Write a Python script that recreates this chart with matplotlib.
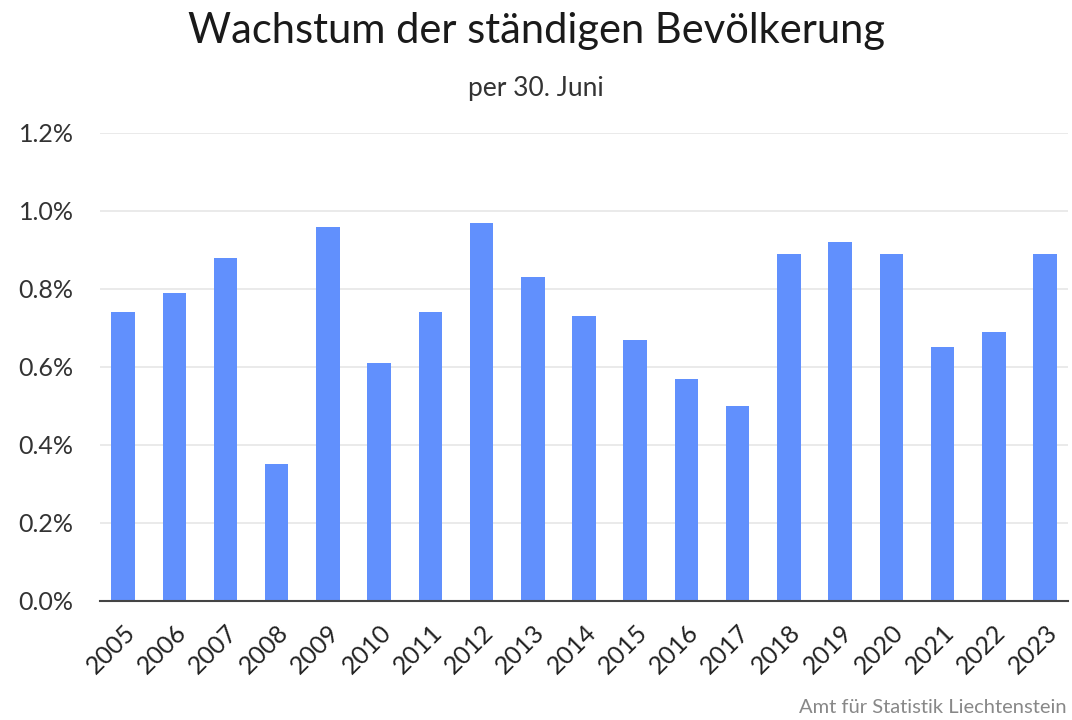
import matplotlib
matplotlib.use('Agg')
import matplotlib.pyplot as plt
from matplotlib.ticker import FuncFormatter

plt.rcParams['font.family'] = ['Lato', 'DejaVu Sans']

years = ['2005', '2006', '2007', '2008', '2009', '2010', '2011', '2012', '2013', '2014',
         '2015', '2016', '2017', '2018', '2019', '2020', '2021', '2022', '2023']
growth = [0.74, 0.79, 0.88, 0.35, 0.96, 0.61, 0.74, 0.97, 0.83, 0.73,
          0.67, 0.57, 0.50, 0.89, 0.92, 0.89, 0.65, 0.69, 0.89]

fig = plt.figure(figsize=(10.72, 7.2), dpi=100)
ax = fig.add_axes([0.0933, 0.1653, 0.903, 0.65])

x = range(len(years))
ax.bar(x, growth, width=0.46, color='#6190fd', zorder=3)

ax.set_xlim(-0.45, len(years) - 0.55)
ax.set_ylim(0, 1.2)
ax.set_yticks([0, 0.2, 0.4, 0.6, 0.8, 1.0, 1.2])
ax.yaxis.set_major_formatter(FuncFormatter(lambda v, p: f'{v:.1f}%'))
ax.grid(axis='y', color='#e6e6e6', linewidth=1.2, zorder=0)

ax.set_xticks(list(x))
ax.set_xticklabels(years, rotation=45, ha='right', rotation_mode='anchor')

for s in ['top', 'right', 'left']:
    ax.spines[s].set_visible(False)
ax.spines['bottom'].set_color('#444444')
ax.spines['bottom'].set_linewidth(1.5)
ax.spines['bottom'].set_zorder(4)
ax.tick_params(axis='both', length=0, labelsize=18, colors='#222222')
ax.tick_params(axis='y', pad=19, colors='#333333')
ax.tick_params(axis='x', pad=14)

fig.text(0.5, 0.957, 'Wachstum der ständigen Bevölkerung', ha='center', va='center',
         fontsize=30, color='#1a1a1a')
fig.text(0.5, 0.877, 'per 30. Juni', ha='center', va='center', fontsize=19, color='#333333')
fig.text(0.995, 0.018, 'Amt für Statistik Liechtenstein', ha='right', va='center',
         fontsize=14.5, color='#888888')

fig.savefig('out.png', dpi=100)
